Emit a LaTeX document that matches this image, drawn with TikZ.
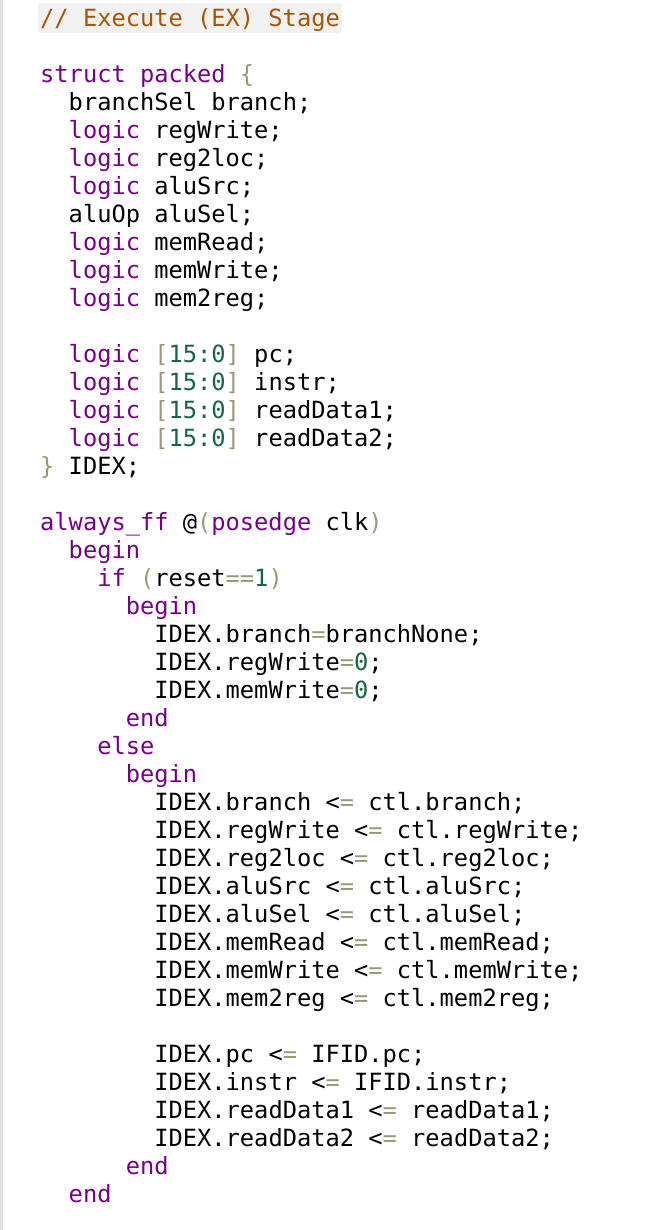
\documentclass[tikz,border=0pt]{standalone}
\usepackage{fontspec}
\usepackage{xcolor}
\usepackage{tikz}
\usetikzlibrary{positioning}
\newfontfamily\codefont{DejaVu Sans Mono}
\definecolor{kwpurple}{HTML}{770088}
\definecolor{cmtbrown}{HTML}{AA5500}
\definecolor{numgreen}{HTML}{116644}
\definecolor{brkgrey}{HTML}{999977}
\definecolor{cmtbg}{HTML}{F1F1F1}
\definecolor{edgegrey}{HTML}{E0E0E0}
\newcommand{\vkw}[1]{\textcolor{kwpurple}{#1}}
\newcommand{\vnm}[1]{\textcolor{numgreen}{#1}}
\newcommand{\vbr}[1]{\textcolor{brkgrey}{#1}}
\newcommand{\vcm}[1]{\textcolor{cmtbrown}{#1}}
\newcommand{\vle}{<\vbr{=}}
\newcommand{\vrange}{\vbr{[}\vnm{15:0}\vbr{]}}
\tikzstyle{codeline}=[anchor=base west,inner sep=0pt,font=\codefont\fontsize{23.7}{28}\selectfont]
\tikzstyle{commentline}=[codeline,fill=cmtbg,rounded corners=3pt,inner xsep=2pt,text height=23.5pt,text depth=6.5pt]

\begin{document}
\begin{tikzpicture}[x=1pt,y=1pt]

    \def\lx{40};
    \def\ly{26.5};
    \def\cw{14.27};
    \def\lh{28};

    \useasboundingbox (0,0) rectangle (658,-1230);
    \fill[edgegrey] (0,0) rectangle (2.5,-1230);

    \node[commentline] (L0) at (\lx-2, -\ly) {\vcm{// Execute (EX) Stage}};

    \foreach \k/\c/\txt in {
        2/0/{\vkw{struct packed} \vbr{\{}},
        3/2/{branchSel branch;},
        4/2/{\vkw{logic} regWrite;},
        5/2/{\vkw{logic} reg2loc;},
        6/2/{\vkw{logic} aluSrc;},
        7/2/{aluOp aluSel;},
        8/2/{\vkw{logic} memRead;},
        9/2/{\vkw{logic} memWrite;},
        10/2/{\vkw{logic} mem2reg;},
        12/2/{\vkw{logic} \vrange{} pc;},
        13/2/{\vkw{logic} \vrange{} instr;},
        14/2/{\vkw{logic} \vrange{} readData1;},
        15/2/{\vkw{logic} \vrange{} readData2;},
        16/0/{\vbr{\}} IDEX;},
        18/0/{\vkw{always\_ff} @\vbr{(}\vkw{posedge} clk\vbr{)}},
        19/2/{\vkw{begin}},
        20/4/{\vkw{if} \vbr{(}reset\vbr{==}\vnm{1}\vbr{)}},
        21/6/{\vkw{begin}},
        22/8/{IDEX.branch\vbr{=}branchNone;},
        23/8/{IDEX.regWrite\vbr{=}\vnm{0};},
        24/8/{IDEX.memWrite\vbr{=}\vnm{0};},
        25/6/{\vkw{end}},
        26/4/{\vkw{else}},
        27/6/{\vkw{begin}},
        28/8/{IDEX.branch \vle{} ctl.branch;},
        29/8/{IDEX.regWrite \vle{} ctl.regWrite;},
        30/8/{IDEX.reg2loc \vle{} ctl.reg2loc;},
        31/8/{IDEX.aluSrc \vle{} ctl.aluSrc;},
        32/8/{IDEX.aluSel \vle{} ctl.aluSel;},
        33/8/{IDEX.memRead \vle{} ctl.memRead;},
        34/8/{IDEX.memWrite \vle{} ctl.memWrite;},
        35/8/{IDEX.mem2reg \vle{} ctl.mem2reg;},
        37/8/{IDEX.pc \vle{} IFID.pc;},
        38/8/{IDEX.instr \vle{} IFID.instr;},
        39/8/{IDEX.readData1 \vle{} readData1;},
        40/8/{IDEX.readData2 \vle{} readData2;},
        41/6/{\vkw{end}},
        42/2/{\vkw{end}} }
        \node[codeline] (L\k) at ({\lx+\c*\cw}, {-\ly-\k*\lh}) {\txt};

\end{tikzpicture}
\end{document}
